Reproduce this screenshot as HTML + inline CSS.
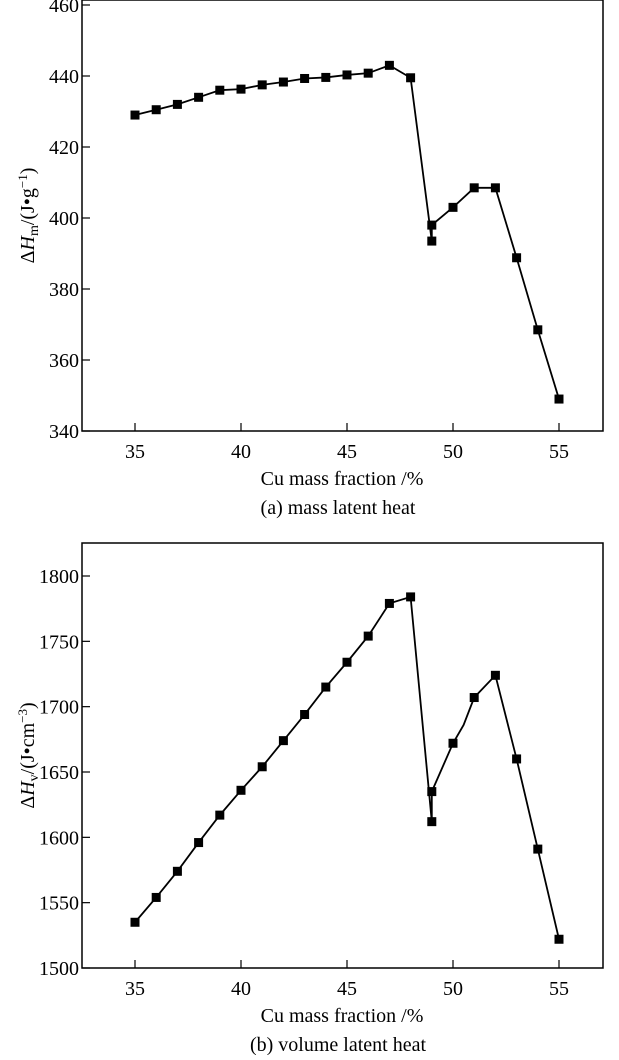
<!DOCTYPE html>
<html><head><meta charset="utf-8"><style>
body{margin:0;background:#fff}
svg text{font-family:"Liberation Serif",serif;fill:#000}
</style></head><body>
<svg id="s" width="619" height="1055"></svg>
<script>
const xTicks=[35,40,45,50,55];
const xA=[35,36,37,38,39,40,41,42,43,44,45,46,47,48,49,49,50,51,52,53,54,55];
const yA=[429,430.5,432,434,436,436.3,437.5,438.3,439.3,439.6,440.3,440.8,443,439.5,393.5,398,403,408.5,408.5,388.8,368.5,349];
const yTicksA=[340,360,380,400,420,440,460];
const xB=[35,36,37,38,39,40,41,42,43,44,45,46,47,48,49,49,50,50.5,51,52,53,54,55];
const yB=[1535,1554,1574,1596,1617,1636,1654,1674,1694,1715,1734,1754,1779,1784,1612,1635,1672,1686,1707,1724,1660,1591,1522];
const markB=[1,1,1,1,1,1,1,1,1,1,1,1,1,1,1,1,1,0,1,1,1,1,1];
const yTicksB=[1500,1550,1600,1650,1700,1750,1800];
const NS='http://www.w3.org/2000/svg';
const s=document.getElementById('s');
function el(t,a,txt){const e=document.createElementNS(NS,t);for(const k in a)e.setAttribute(k,a[k]);if(txt!==undefined)e.textContent=txt;s.appendChild(e);return e;}
function chart(p){
  const L=82,R=603,T=p.top,B=p.bottom;
  const x=v=>135+(v-35)*21.2;
  const y=v=>B-(v-p.ymin)/(p.ymax-p.ymin)*(B-p.ytop);
  const r=el('rect',{x:L,y:T,width:R-L,height:B-T,fill:'none',stroke:'#000','stroke-width':1.5});
  
  
  xTicks.forEach(v=>{
    const l=el('line',{x1:x(v),x2:x(v),y1:B,y2:B-8,stroke:'#000','stroke-width':1.2});
    
    
    const t=el('text',{x:x(v),y:B+27,'text-anchor':'middle','font-size':20},v);
    
    
  });
  p.yt.forEach(v=>{
    const l=el('line',{x1:L,x2:L+8,y1:y(v),y2:y(v),stroke:'#000','stroke-width':1.2});
    
    
    const t=el('text',{x:L-3,y:y(v)+7,'text-anchor':'end','font-size':20},v);
    
    
  });
  const pts=p.xs.map((v,i)=>x(v)+','+y(p.ys[i])).join(' ');
  const pl=el('polyline',{points:pts,fill:'none',stroke:'#000','stroke-width':1.8});
  
  
  p.xs.forEach((v,i)=>{
    if(p.mk&&!p.mk[i])return;
    const m=el('rect',{x:x(v)-4.5,y:y(p.ys[i])-4.5,width:9,height:9,fill:'#000'});
    
    
  });
  const xl=el('text',{x:342,y:B+54,'text-anchor':'middle','font-size':20},'Cu mass fraction /%');
  
  
  const cap=el('text',{x:338,y:B+83,'text-anchor':'middle','font-size':20},p.cap);
  
  
  const yl=el('text',{transform:`translate(34,${(T+B)/2}) rotate(-90)`,'text-anchor':'middle','font-size':20});
  yl.innerHTML=p.ylab;
  
  
}
chart({id:'mass',top:0,bottom:431,ytop:5,ymin:340,ymax:460,yt:yTicksA,xs:xA,ys:yA,cap:'(a) mass latent heat',
 ylab:'Δ<tspan font-style="italic">H</tspan><tspan font-size="14" dy="4">m</tspan><tspan dy="-4">/(J•g</tspan><tspan font-size="13" dy="-7">−1</tspan><tspan dy="7">)</tspan>'});
chart({id:'volume',top:543,bottom:968,ytop:576,ymin:1500,ymax:1800,yt:yTicksB,xs:xB,ys:yB,mk:markB,cap:'(b) volume latent heat',
 ylab:'Δ<tspan font-style="italic">H</tspan><tspan font-size="14" dy="4">v</tspan><tspan dy="-4">/(J•cm</tspan><tspan font-size="13" dy="-7">−3</tspan><tspan dy="7">)</tspan>'});
</script>
</body></html>
